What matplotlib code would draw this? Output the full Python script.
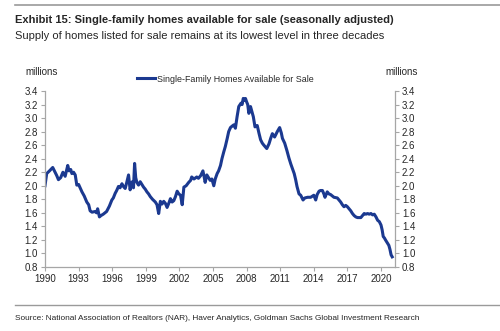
import matplotlib
matplotlib.use("Agg")
import matplotlib.pyplot as plt
from matplotlib.lines import Line2D

years = [
    1990.00, 1990.08, 1990.15, 1990.40, 1990.69, 1990.90, 1991.05, 1991.20, 1991.40, 1991.60,
    1991.80, 1991.92, 1992.03, 1992.15, 1992.30, 1992.40, 1992.55, 1992.70, 1992.84, 1993.00,
    1993.30, 1993.50, 1993.73, 1993.90, 1994.03, 1994.20, 1994.48, 1994.60, 1994.70, 1994.86,
    1995.00, 1995.20, 1995.50, 1995.75, 1995.97, 1996.10, 1996.27, 1996.40, 1996.56, 1996.70,
    1996.87, 1997.00, 1997.16, 1997.30, 1997.46, 1997.60, 1997.70, 1997.80, 1997.90, 1998.00,
    1998.10, 1998.20, 1998.35, 1998.50, 1998.65, 1998.80, 1998.95, 1999.10, 1999.25, 1999.40,
    1999.60, 1999.85, 2000.00, 2000.15, 2000.30, 2000.45, 2000.60, 2000.75, 2000.90, 2001.05,
    2001.20, 2001.35, 2001.50, 2001.65, 2001.80, 2001.95, 2002.10, 2002.25, 2002.40, 2002.60,
    2002.83, 2003.00, 2003.10, 2003.30, 2003.55, 2003.70, 2003.90, 2004.10, 2004.20, 2004.30,
    2004.45, 2004.60, 2004.75, 2004.90, 2005.07, 2005.20, 2005.37, 2005.50, 2005.67, 2005.80,
    2005.96, 2006.10, 2006.27, 2006.40, 2006.56, 2006.70, 2006.86, 2007.00, 2007.15, 2007.30,
    2007.50, 2007.60, 2007.70, 2007.80, 2007.90, 2008.00, 2008.10, 2008.20, 2008.35, 2008.50,
    2008.60, 2008.75, 2008.95, 2009.10, 2009.25, 2009.40, 2009.54, 2009.80, 2010.00, 2010.15,
    2010.30, 2010.50, 2010.74, 2010.95, 2011.10, 2011.20, 2011.40, 2011.60, 2011.78, 2011.95,
    2012.08, 2012.25, 2012.38, 2012.50, 2012.68, 2012.83, 2013.04, 2013.20, 2013.45, 2013.72,
    2013.90, 2014.00, 2014.17, 2014.30, 2014.47, 2014.60, 2014.77, 2014.90, 2015.00, 2015.20,
    2015.35, 2015.50, 2015.65, 2015.80, 2016.10, 2016.25, 2016.40, 2016.55, 2016.70, 2016.85,
    2017.00, 2017.15, 2017.30, 2017.45, 2017.60, 2017.75, 2017.90, 2018.20, 2018.35, 2018.50,
    2018.65, 2018.80, 2018.95, 2019.10, 2019.25, 2019.40, 2019.55, 2019.70, 2019.85, 2020.00,
    2020.10, 2020.20, 2020.30, 2020.40, 2020.55, 2020.70, 2020.80, 2020.90, 2021.00,
]
homes = [
    2.00, 2.10, 2.18, 2.22, 2.27, 2.20, 2.15, 2.09, 2.12, 2.20,
    2.14, 2.22, 2.30, 2.22, 2.24, 2.18, 2.20, 2.16, 2.01, 2.02,
    1.91, 1.85, 1.76, 1.72, 1.63, 1.61, 1.62, 1.60, 1.66, 1.54,
    1.56, 1.58, 1.62, 1.70, 1.79, 1.82, 1.89, 1.93, 1.99, 1.97,
    2.03, 1.99, 1.96, 2.05, 2.16, 1.94, 2.02, 2.06, 1.97, 2.33,
    2.12, 2.05, 2.01, 2.06, 2.02, 1.98, 1.95, 1.91, 1.88, 1.84,
    1.80, 1.76, 1.72, 1.59, 1.77, 1.73, 1.77, 1.74, 1.68, 1.74,
    1.81, 1.76, 1.78, 1.84, 1.92, 1.88, 1.86, 1.72, 1.98, 2.00,
    2.05, 2.08, 2.13, 2.10, 2.13, 2.11, 2.15, 2.22, 2.14, 2.05,
    2.16, 2.12, 2.08, 2.10, 2.00, 2.10, 2.18, 2.22, 2.30, 2.40,
    2.50, 2.58, 2.70, 2.80, 2.86, 2.88, 2.90, 2.85, 3.02, 3.17,
    3.22, 3.20, 3.29, 3.26, 3.29, 3.24, 3.20, 3.07, 3.17, 3.08,
    3.02, 2.87, 2.89, 2.78, 2.68, 2.63, 2.60, 2.55, 2.62, 2.70,
    2.77, 2.72, 2.80, 2.86, 2.78, 2.70, 2.63, 2.52, 2.41, 2.32,
    2.26, 2.18, 2.09, 1.99, 1.88, 1.86, 1.79, 1.82, 1.83, 1.83,
    1.85, 1.86, 1.79, 1.87, 1.92, 1.93, 1.93, 1.88, 1.83, 1.91,
    1.88, 1.87, 1.85, 1.83, 1.82, 1.79, 1.76, 1.72, 1.69, 1.71,
    1.69, 1.66, 1.63, 1.59, 1.56, 1.54, 1.53, 1.53, 1.56, 1.59,
    1.58, 1.59, 1.58, 1.59, 1.57, 1.58, 1.54, 1.49, 1.47, 1.42,
    1.35, 1.25, 1.23, 1.20, 1.16, 1.12, 1.06, 0.98, 0.95,
]
x_ticks = [1990, 1993, 1996, 1999, 2002, 2005, 2008, 2011, 2014, 2017, 2020]
y_ticks = [0.8, 1.0, 1.2, 1.4, 1.6, 1.8, 2.0, 2.2, 2.4, 2.6, 2.8, 3.0, 3.2, 3.4]
series_label = "Single-Family Homes Available for Sale"
title = "Exhibit 15: Single-family homes available for sale (seasonally adjusted)"
subtitle = "Supply of homes listed for sale remains at its lowest level in three decades"
source = "Source: National Association of Realtors (NAR), Haver Analytics, Goldman Sachs Global Investment Research"

LINE = "#1b3990"
AXC = "#a6a6a6"
TXT = "#262626"
SANS = ["Liberation Sans", "DejaVu Sans"]

W, H = 500, 331
fig = plt.figure(figsize=(5.0, 3.31), dpi=100)

def fx(px):
    return px / W
def fy(py):
    return 1 - py / H

fig.add_artist(Line2D([fx(15), 1.0], [fy(5), fy(5)], color="#9a9a9a", lw=1.2))
fig.add_artist(Line2D([fx(15), 1.0], [fy(305), fy(305)], color="#9a9a9a", lw=1.0))

fig.text(fx(15), fy(20), title, family=SANS, weight="bold", fontsize=8.0,
         color=TXT, va="center", ha="left")
fig.text(fx(15), fy(36), subtitle, family=SANS, fontsize=8.0,
         color=TXT, va="center", ha="left")
fig.text(fx(15), fy(318), source, family=SANS, fontsize=5.95,
         color=TXT, va="center", ha="left")

ax = fig.add_axes([fx(45), fy(267), fx(395) - fx(45), fy(91) - fy(267)])
ax.plot(years, homes, color=LINE, lw=2.2, solid_joinstyle="round")
ax.set_xlim(1990, 2021.25)
ax.set_ylim(0.8, 3.4)
ax.set_xticks(x_ticks)
ax.set_xticklabels([str(t) for t in x_ticks])
ax.set_yticks(y_ticks)
ax.set_yticklabels([f"{v:.1f}" for v in y_ticks])

ax2 = ax.twinx()
ax2.set_ylim(0.8, 3.4)
ax2.set_yticks(y_ticks)
ax2.set_yticklabels([f"{v:.1f}" for v in y_ticks])

for a in (ax, ax2):
    for s in a.spines.values():
        s.set_visible(False)
    a.tick_params(colors=AXC, labelcolor=TXT, labelsize=7, length=3, width=0.8)
    for lab in a.get_xticklabels() + a.get_yticklabels():
        lab.set_family(SANS)
ax.spines["left"].set_visible(True)
ax.spines["bottom"].set_visible(True)
ax2.spines["right"].set_visible(True)
for s in (ax.spines["left"], ax.spines["bottom"], ax2.spines["right"]):
    s.set_color(AXC)
    s.set_linewidth(0.9)
ax.tick_params(axis="y", pad=2)
ax2.tick_params(axis="y", pad=2)
ax.tick_params(axis="x", pad=2)

fig.text(fx(42), fy(72), "millions", family=SANS, fontsize=7, color=TXT,
         ha="center", va="center")
fig.text(fx(402), fy(72), "millions", family=SANS, fontsize=7, color=TXT,
         ha="center", va="center")

leg = ax.legend([Line2D([0], [0], color=LINE, lw=2.2)], [series_label],
                loc="center left", bbox_to_anchor=(fx(133), fy(79)),
                bbox_transform=fig.transFigure, frameon=False,
                handlelength=2.0, handletextpad=0.15, borderpad=0,
                prop={"family": SANS, "size": 6.4})
for t in leg.get_texts():
    t.set_color(TXT)

fig.savefig("out.png", dpi=100)
